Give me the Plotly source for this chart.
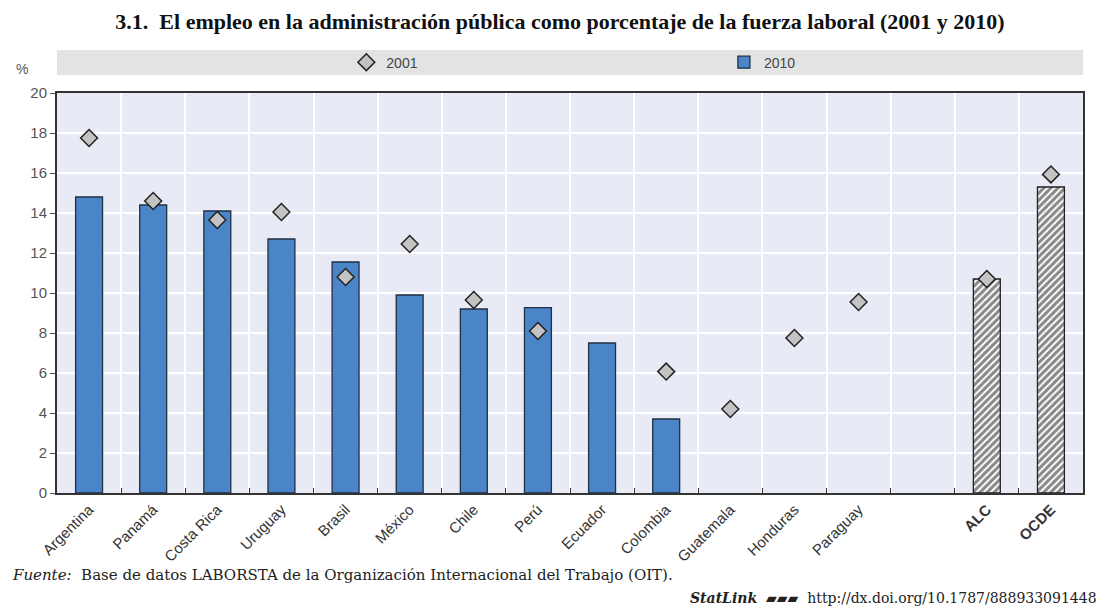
import plotly.graph_objects as go

categories = ["Argentina", "Panamá", "Costa Rica", "Uruguay", "Brasil", "México", "Chile",
              "Perú", "Ecuador", "Colombia", "Guatemala", "Honduras", "Paraguay", " ", "ALC", "OCDE"]
tick_labels = ["Argentina", "Panamá", "Costa Rica", "Uruguay", "Brasil", "México", "Chile",
               "Perú", "Ecuador", "Colombia", "Guatemala", "Honduras", "Paraguay", "",
               "<b>ALC</b>", "<b>OCDE</b>"]
v2010 = [14.8, 14.4, 14.1, 12.7, 11.55, 9.9, 9.2, 9.27, 7.5, 3.7, None, None, None, None, None, None]
v2010_agg = [None] * 14 + [10.7, 15.3]
v2001 = [17.75, 14.6, 13.65, 14.05, 10.8, 12.45, 9.65, 8.1, None, 6.07, 4.2, 7.75, 9.55, None, 10.7, 15.93]

SANS = "Liberation Sans Narrow, Liberation Sans, Arial"

fig = go.Figure()
fig.add_trace(go.Bar(x=categories, y=v2010, name="2010", width=0.42, legend="legend2",
                     marker=dict(color="#4a85c7", line=dict(color="#1f2f45", width=1.3))))
fig.add_trace(go.Bar(x=categories, y=v2010_agg, name="2010 agg", width=0.42, showlegend=False,
                     marker=dict(color="white", line=dict(color="#222", width=1.3),
                                 pattern=dict(shape="/", fgcolor="#111", bgcolor="white",
                                              size=5, solidity=0.6))))
fig.add_trace(go.Scatter(x=categories, y=v2001, name="2001", mode="markers", legend="legend",
                         marker=dict(symbol="diamond", size=13, color="#c3c3c3",
                                     line=dict(color="#222", width=1.5))))

fig.update_layout(
    width=1104, height=613,
    margin=dict(l=49, r=29, t=85, b=128, autoexpand=False),
    paper_bgcolor="white", plot_bgcolor="#e8ebf5",
    barmode="overlay",
    font=dict(family=SANS, size=13, color="#333"),
    title=dict(text="<b>3.1.  El empleo en la administración pública como porcentaje de la fuerza laboral (2001 y 2010)</b>",
               x=0.5, xanchor="center", y=0.978, yanchor="middle",
               font=dict(family="Liberation Serif", size=22, color="#111")),
    legend=dict(orientation="h", x=0.282, xanchor="left", y=1.076, yanchor="middle",
                bgcolor="rgba(0,0,0,0)", font=dict(family=SANS, size=14, color="#444")),
    legend2=dict(orientation="h", x=0.65, xanchor="left", y=1.076, yanchor="middle",
                 bgcolor="rgba(0,0,0,0)", font=dict(family=SANS, size=14, color="#444")),
    showlegend=True,
)
fig.update_xaxes(categoryorder="array", categoryarray=categories,
                 tickmode="array", tickvals=categories, ticktext=tick_labels,
                 tickangle=-45, tickson="boundaries", ticks="inside", ticklen=5,
                 tickcolor="#333", showgrid=True, gridcolor="white", gridwidth=1.5,
                 showline=True, linecolor="#333", linewidth=2, mirror=True, automargin=False,
                 tickfont=dict(family=SANS, size=15, color="#333"), range=[-0.5, 15.5])
fig.update_yaxes(range=[0, 20], dtick=2, ticks="outside", ticklen=5, tickcolor="#555",
                 showgrid=True, gridcolor="white", gridwidth=1.5, automargin=False,
                 showline=True, linecolor="#333", linewidth=2, mirror=True,
                 tickfont=dict(family=SANS, size=15, color="#555"), zeroline=False)

# legend band
fig.add_shape(type="rect", xref="paper", yref="paper", x0=0, x1=1, y0=1.045, y1=1.1075,
              fillcolor="#e3e3e3", line=dict(width=0), layer="below")
fig.add_annotation(text="%", xref="paper", yref="paper", x=-0.034, y=1.06, xanchor="center",
                   yanchor="middle", showarrow=False, font=dict(family=SANS, size=14, color="#555"))
fig.add_annotation(text="<i>Fuente:</i>  Base de datos LABORSTA de la Organización Internacional del Trabajo (OIT).",
                   xref="paper", yref="paper", x=-0.046, y=-0.205, xanchor="left", yanchor="middle",
                   showarrow=False, font=dict(family="DejaVu Serif", size=15, color="#222"))
fig.add_annotation(text="<b><i>StatLink</i></b>  ▰▰▰  http://dx.doi.org/10.1787/888933091448",
                   xref="paper", yref="paper", x=1.016, y=-0.2625, xanchor="right", yanchor="middle",
                   showarrow=False, font=dict(family="DejaVu Serif", size=14, color="#222"))

fig.write_html("out.html")
